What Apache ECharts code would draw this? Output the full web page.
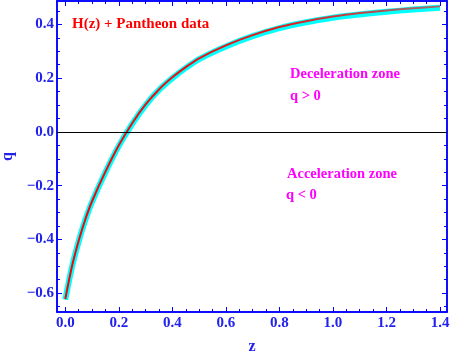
<!DOCTYPE html>
<html><head><meta charset="utf-8">
<script src="https://cdn.jsdelivr.net/npm/echarts@6/dist/echarts.min.js"></script>
<style>html,body{margin:0;padding:0;background:#fff}#c{width:450px;height:356px}</style>
</head><body><div id="c"></div>
<script>
const zValues  = [0, 0.025, 0.05, 0.075, 0.1, 0.15, 0.2, 0.25, 0.3, 0.35, 0.4, 0.45, 0.5, 0.6, 0.7, 0.8, 0.9, 1.0, 1.1, 1.2, 1.3, 1.4];
const qBestFit = [-0.622, -0.50, -0.405, -0.325, -0.258, -0.148, -0.05, 0.032, 0.102, 0.158, 0.203, 0.241, 0.274, 0.322, 0.360, 0.390, 0.412, 0.429, 0.442, 0.452, 0.460, 0.467];
const qBand    = [-0.624, -0.502, -0.407, -0.327, -0.26, -0.15, -0.052, 0.03, 0.1, 0.156, 0.2, 0.238, 0.271, 0.318, 0.356, 0.386, 0.408, 0.425, 0.437, 0.447, 0.455, 0.462];
const xMajorTicks = [0, 0.2, 0.4, 0.6, 0.8, 1.0, 1.2, 1.4];
const xMinorTicks = [0.05, 0.1, 0.15, 0.25, 0.3, 0.35, 0.45, 0.5, 0.55, 0.65, 0.7, 0.75, 0.85, 0.9, 0.95, 1.05, 1.1, 1.15, 1.25, 1.3, 1.35];
const yMajorTicks = [-0.6, -0.4, -0.2, 0, 0.2, 0.4];
const yMinorTicks = [-0.65, -0.55, -0.5, -0.45, -0.35, -0.3, -0.25, -0.15, -0.1, -0.05, 0.05, 0.1, 0.15, 0.25, 0.3, 0.35, 0.45];
const xRange = [-0.031, 1.426];
const yRange = [-0.67, 0.487];

const BLUE = '#0000ff';
const LABEL = '#2222ee';
const SERIF = '"Liberation Serif", "DejaVu Serif", serif';
const fmt = v => v.toFixed(1).replace('-', '\u2212');

function axis(kind, pos, ticks, len, labels, extra) {
  const a = {
    type: 'value', position: pos, min: kind === 'x' ? xRange[0] : yRange[0], max: kind === 'x' ? xRange[1] : yRange[1],
    axisLine: { show: true, onZero: false, lineStyle: { color: BLUE, width: 1.5 } },
    axisTick: { show: true, inside: true, length: len, customValues: ticks, lineStyle: { color: BLUE, width: 1 } },
    axisLabel: labels ? { show: true, customValues: ticks, formatter: fmt, color: LABEL, fontFamily: SERIF, fontWeight: 'bold', fontSize: 15, margin: kind === 'x' ? 4 : 3 } : { show: false },
    splitLine: { show: false }
  };
  return Object.assign(a, extra || {});
}

const chart = echarts.init(document.getElementById('c'), null, { renderer: 'canvas' });
chart.setOption({
  animation: false,
  backgroundColor: '#fff',
  grid: { left: 57, right: 3, top: 1, bottom: 44, containLabel: false, outerBoundsMode: 'none' },
  xAxis: [
    axis('x', 'bottom', xMajorTicks, 5, true, { name: 'z', nameLocation: 'middle', nameGap: 27, nameTextStyle: { color: LABEL, fontFamily: SERIF, fontWeight: 'bold', fontSize: 16 } }),
    axis('x', 'bottom', xMinorTicks, 3, false),
    axis('x', 'top', xMajorTicks, 5, false),
    axis('x', 'top', xMinorTicks, 3, false)
  ],
  yAxis: [
    axis('y', 'left', yMajorTicks, 5, true, { name: 'q', nameLocation: 'middle', nameGap: 38, nameTextStyle: { color: LABEL, fontFamily: SERIF, fontWeight: 'bold', fontSize: 16 } }),
    axis('y', 'left', yMinorTicks, 3, false),
    axis('y', 'right', yMajorTicks, 5, false),
    axis('y', 'right', yMinorTicks, 3, false)
  ],
  series: [
    { type: 'line', data: [], z: 1, silent: true,
      markLine: { silent: true, symbol: 'none', label: { show: false }, lineStyle: { color: '#000', width: 1, type: 'solid' }, data: [{ yAxis: 0 }] } },
    { type: 'line', z: 2, silent: true, showSymbol: false, smooth: 0.3,
      data: zValues.map((z, i) => [z, qBand[i]]),
      lineStyle: { color: '#00ffff', width: 6, cap: 'butt' } },
    { type: 'line', z: 3, silent: true, showSymbol: false, smooth: 0.3,
      data: zValues.map((z, i) => [z, qBestFit[i]]),
      lineStyle: { width: 2, color: new echarts.graphic.LinearGradient(0, 0, 1, 0, [
        { offset: 0, color: '#ff0000' }, { offset: 0.55, color: '#e81818' }, { offset: 1, color: '#9a7070' }]) } }
  ],
  graphic: [
    { type: 'text', x: 72, y: 24, style: { text: 'H(z) + Pantheon data', fill: '#ff0000', font: 'bold 15px ' + SERIF, verticalAlign: 'middle' } },
    { type: 'text', x: 290, y: 74, style: { text: 'Deceleration zone', fill: '#ff00ff', font: 'bold 14.5px ' + SERIF, verticalAlign: 'middle' } },
    { type: 'text', x: 290, y: 96, style: { text: 'q > 0', fill: '#ff00ff', font: 'bold 14.5px ' + SERIF, verticalAlign: 'middle' } },
    { type: 'text', x: 287, y: 174, style: { text: 'Acceleration zone', fill: '#ff00ff', font: 'bold 14.5px ' + SERIF, verticalAlign: 'middle' } },
    { type: 'text', x: 286, y: 195, style: { text: 'q < 0', fill: '#ff00ff', font: 'bold 14.5px ' + SERIF, verticalAlign: 'middle' } }
  ]
});
</script></body></html>
